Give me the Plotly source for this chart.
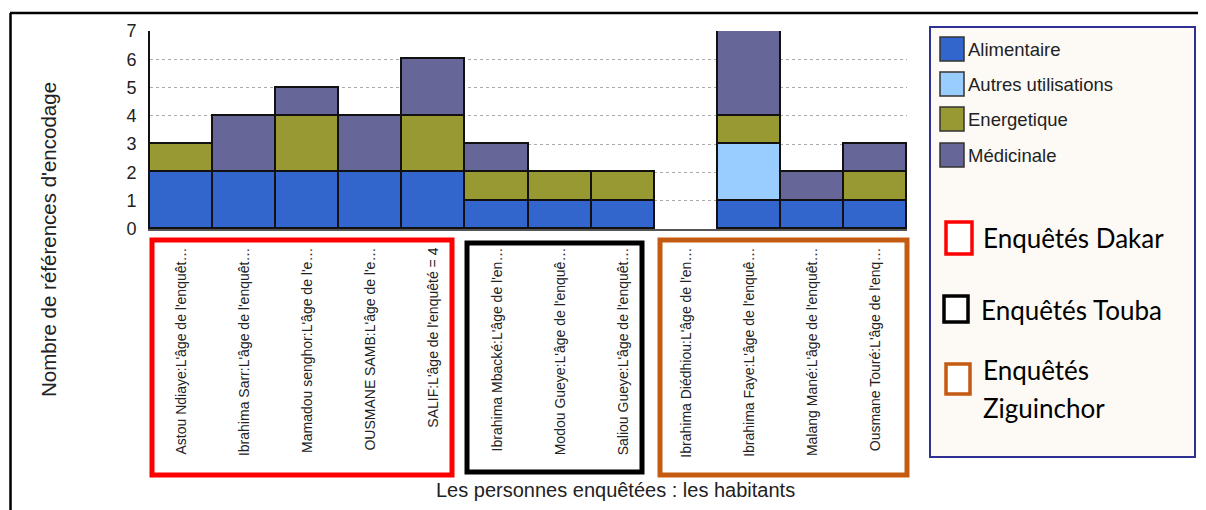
import plotly.graph_objects as go

# ---------------- data ----------------
categories = [
    "Astou Ndiaye:L'âge de l'enquêt…",
    "Ibrahima Sarr:L'âge de l'enquêt…",
    "Mamadou senghor:L'âge de l'e…",
    "OUSMANE SAMB:L'âge de l'e…",
    "SALIF:L'âge de l'enquêté = 4",
    "Ibrahima Mbacké:L'âge de l'en…",
    "Modou Gueye:L'âge de l'enquê…",
    "Saliou Gueye:L'âge de l'enquêt…",
    "Ibrahima Diédhiou:L'âge de l'en…",
    "Ibrahima Faye:L'âge de l'enquê…",
    "Malang Mané:L'âge de l'enquêt…",
    "Ousmane Touré:L'âge de l'enq…",
]
alimentaire = [2, 2, 2, 2, 2, 1, 1, 1, 0, 1, 1, 1]
autres_utilisations = [0, 0, 0, 0, 0, 0, 0, 0, 0, 2, 0, 0]
energetique = [1, 0, 2, 0, 2, 1, 1, 1, 0, 1, 0, 1]
medicinale = [0, 2, 1, 2, 2, 1, 0, 0, 0, 3, 1, 1]

series_names = ["Alimentaire", "Autres utilisations", "Energetique", "Médicinale"]
series_values = [alimentaire, autres_utilisations, energetique, medicinale]
series_colors = ["#3366CC", "#99CCFF", "#999933", "#666699"]

group_names = ["Enquêtés Dakar", "Enquêtés Touba", "Enquêtés Ziguinchor"]
group_colors = ["#FF0000", "#000000", "#C55A11"]

y_ticks = [0, 1, 2, 3, 4, 5, 6, 7]
x_title = "Les personnes enquêtées : les habitants"
y_title = "Nombre de références d'encodage"

# ---------------- layout geometry (page pixels) ----------------
OFF = 8  # default body margin of the html page
W, H = 1206 - OFF, 510 - OFF
PL, PR, PT, PB = 150, 907, 31, 229  # plot area in page pixels


def px(x):
    return (x - PL) / (PR - PL)


def py(y):
    return (PB - y) / (PB - PT)


ARIAL = "Arial, Liberation Sans, sans-serif"
CAL = "Lato, Carlito, Calibri, sans-serif"

fig = go.Figure()
for name, vals, col in zip(series_names, series_values, series_colors):
    fig.add_trace(go.Bar(
        x=categories,
        y=[v if v else None for v in vals],
        name=name,
        marker=dict(color=col, line=dict(color="#111111", width=1.6)),
        showlegend=False,
    ))

shapes = []
annotations = []

# outer frame (top and left)
shapes.append(dict(type="line", xref="paper", yref="paper",
                   x0=px(10), x1=px(1203), y0=py(13), y1=py(13),
                   line=dict(color="black", width=2.5)))
shapes.append(dict(type="line", xref="paper", yref="paper",
                   x0=px(10.5), x1=px(10.5), y0=py(13), y1=py(515),
                   line=dict(color="black", width=2.5)))

# group boxes around tick labels
group_boxes = [(152, 240, 452, 475), (467, 243, 642, 472), (660, 240, 907, 475)]
for (x0, y0, x1, y1), col in zip(group_boxes, group_colors):
    shapes.append(dict(type="rect", xref="paper", yref="paper",
                       x0=px(x0), x1=px(x1), y0=py(y0), y1=py(y1),
                       line=dict(color=col, width=5), fillcolor="rgba(0,0,0,0)"))

# legend box
shapes.append(dict(type="rect", xref="paper", yref="paper",
                   x0=px(930), x1=px(1195), y0=py(27), y1=py(457),
                   line=dict(color="#2E3192", width=2), fillcolor="#FDFAF6", layer="below"))

item_y = [49, 84, 119, 155]
for name, col, yc in zip(series_names, series_colors, item_y):
    shapes.append(dict(type="rect", xref="paper", yref="paper",
                       x0=px(940), x1=px(964), y0=py(yc - 12), y1=py(yc + 12),
                       line=dict(color="#333333", width=1.5), fillcolor=col))
    annotations.append(dict(xref="paper", yref="paper", x=px(966), y=py(yc),
                            text=name, showarrow=False, xanchor="left", yanchor="middle",
                            font=dict(family=ARIAL, size=18.5, color="#222222")))

group_sq = [(946, 222, 972, 254), (944, 296, 968, 322), (946, 364, 970, 394)]
for (x0, y0, x1, y1), col in zip(group_sq, group_colors):
    shapes.append(dict(type="rect", xref="paper", yref="paper",
                       x0=px(x0), x1=px(x1), y0=py(y0), y1=py(y1),
                       line=dict(color=col, width=3.5), fillcolor="white"))

GF = dict(family=CAL, size=26, color="black")
annotations.append(dict(xref="paper", yref="paper", x=px(981), y=py(238),
                        text=group_names[0], showarrow=False, xanchor="left", yanchor="middle",
                        font=GF))
annotations.append(dict(xref="paper", yref="paper", x=px(979), y=py(310),
                        text=group_names[1], showarrow=False, xanchor="left", yanchor="middle",
                        font=GF))
zig_words = group_names[2].split(" ")
annotations.append(dict(xref="paper", yref="paper", x=px(981), y=py(370),
                        text=zig_words[0], showarrow=False, xanchor="left", yanchor="middle",
                        font=GF))
annotations.append(dict(xref="paper", yref="paper", x=px(981), y=py(408),
                        text=zig_words[1], showarrow=False, xanchor="left", yanchor="middle",
                        font=GF))

# axis titles
annotations.append(dict(xref="paper", yref="paper", x=px(615), y=py(490),
                        text=x_title, showarrow=False, xanchor="center", yanchor="middle",
                        font=dict(family=ARIAL, size=20, color="#222222")))
annotations.append(dict(xref="paper", yref="paper", x=px(48), y=py(240),
                        text=y_title, showarrow=False, textangle=-90,
                        xanchor="center", yanchor="middle",
                        font=dict(family=ARIAL, size=20.5, color="#222222")))

fig.update_layout(
    width=W, height=H,
    margin=dict(l=PL - OFF, r=1206 - PR, t=PT - OFF, b=510 - PB, pad=0),
    paper_bgcolor="white", plot_bgcolor="white",
    barmode="stack", bargap=0,
    showlegend=False,
    shapes=shapes, annotations=annotations,
    xaxis=dict(
        type="category", tickangle=-90, ticks="", ticklabelstandoff=11,
        tickfont=dict(family=ARIAL, size=14, color="#222222"),
        showline=True, linecolor="#555555", linewidth=2,
        showgrid=False, zeroline=False, automargin=False,
    ),
    yaxis=dict(
        range=[0, 7], tickvals=y_ticks, ticks="", ticklabelstandoff=8,
        tickfont=dict(family=ARIAL, size=18, color="#222222"),
        showline=True, linecolor="#111111", linewidth=2,
        showgrid=True, gridcolor="#AAAAAA", gridwidth=1.2, griddash="dot",
        zeroline=False, automargin=False,
    ),
)

fig.write_html("out.html")
